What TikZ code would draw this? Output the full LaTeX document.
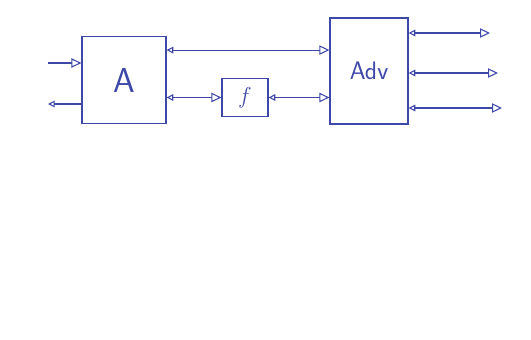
\documentclass[tikz,border=0pt]{standalone}
\usepackage{amsmath}
\usepackage{xcolor}
\usepackage{tikz}
\usetikzlibrary{arrows.meta, positioning, calc}
\definecolor{inkcol}{RGB}{62,72,168}

\tikzset{
  box/.style={draw=inkcol, line width=0.9pt, inner sep=0pt},
  wire/.style={inkcol, line width=0.8pt},
  twoway/.style={wire, {Triangle[open,length=5pt,width=5pt]}-{Triangle[open,length=7.5pt,width=7pt]}},
  oneway/.style={wire, -{Triangle[open,length=7.5pt,width=7pt]}},
  outway/.style={wire, -{Triangle[open,length=5pt,width=5pt]}}
}

\begin{document}
\begin{tikzpicture}[x=0.75pt, y=-0.75pt, font=\sffamily]
  \useasboundingbox (0,0) rectangle (531,339);

  % boxes
  \node[box, minimum width=63pt, minimum height=65pt, text=inkcol,
        font=\sffamily\fontsize{26}{30}\selectfont] (A) at (124,80) {A};
  \node[box, minimum width=34.5pt, minimum height=29pt, text=inkcol,
        font=\fontsize{18}{20}\selectfont] (f) at (245,97.5) {$f$};
  \node[box, minimum width=58.5pt, minimum height=79.5pt, text=inkcol,
        font=\sffamily\fontsize{19}{22}\selectfont] (Adv) at (369,71) {Adv};

  % free ends
  \coordinate (inA) at (48,63);
  \coordinate (outA) at (48,104);
  \coordinate (aTop) at ($(A.north east)+(0,14)$);
  \coordinate (o1) at (490,33);
  \coordinate (o2) at (498,73);
  \coordinate (o3) at (502,108);

  % A ports
  \draw[oneway] (inA) -- (inA -| A.west);
  \draw[outway] (A.west |- outA) -- (outA);
  \draw[twoway] (aTop) -- (aTop -| Adv.west);
  \draw[twoway] (A.east |- f.west) -- (f.west);
  \draw[twoway] (f.east) -- (f.east -| Adv.west);

  % Adv outputs
  \foreach \o in {o1,o2,o3}
    \draw[twoway] (Adv.east |- \o) -- (\o);
\end{tikzpicture}
\end{document}
